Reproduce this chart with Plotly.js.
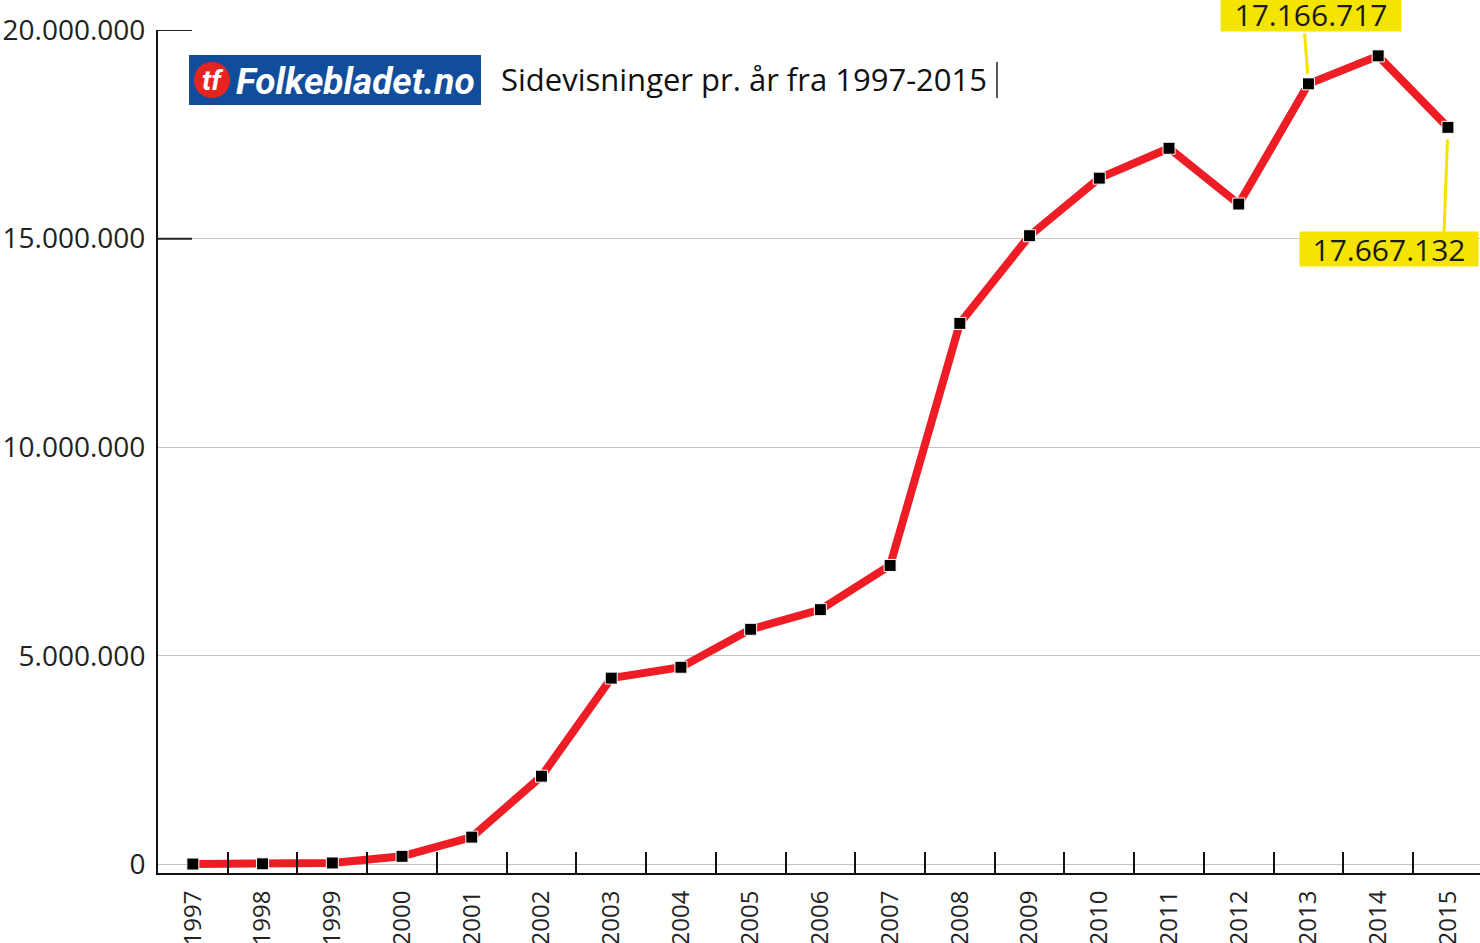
<!DOCTYPE html>
<html>
<head>
<meta charset="utf-8">
<script src="https://cdn.plot.ly/plotly-3.0.1.min.js"></script>
<style>
  html, body { margin: 0; padding: 0; background: #ffffff; }
  #chart { width: 1480px; height: 943px; }
</style>
</head>
<body>
<div id="chart"></div>
<script>
// ---- data ----
const years = ['1997','1998','1999','2000','2001','2002','2003','2004','2005','2006',
               '2007','2008','2009','2010','2011','2012','2013','2014','2015'];
const pageViews = [15000, 20000, 40000, 200000, 660000, 2120000, 4470000, 4730000, 5640000, 6110000,
                   7170000, 12970000, 15070000, 16450000, 17166717, 15830000, 18710000, 19380000, 17667132];
const yTicks = [0, 5000000, 10000000, 15000000, 20000000];
const calloutYears = ['2013', '2015'];
const calloutTexts = ['17.166.717', '17.667.132'];
const titleText = 'Sidevisninger pr. år fra 1997-2015';
const logoText = 'Folkebladet.no';
const logoMark = 'tf';

// ---- layout geometry helpers (pixel -> paper) ----
const W = 1480, H = 943;
const M = { l: 158, r: 0, t: 30, b: 70 };
const PW = W - M.l - M.r, PH = H - M.t - M.b;
const px = x => (x - M.l) / PW;
const py = y => (H - M.b - y) / PH;

const trace = {
  type: 'scatter',
  mode: 'lines+markers',
  x: years,
  y: pageViews,
  line: { color: '#ee1c25', width: 8 },
  marker: { symbol: 'square', size: 12, color: '#000000', line: { color: '#ffffff', width: 1 } },
  hoverinfo: 'skip',
  cliponaxis: false
};

const idx = calloutYears.map(y => years.indexOf(y));

const annotations = [
  // logo text
  { xref: 'paper', yref: 'paper', x: px(234), y: py(81), xanchor: 'left', yanchor: 'middle',
    text: '<b><i>' + logoText + '</i></b>', showarrow: false,
    font: { family: 'Roboto, sans-serif', size: 37, color: '#ffffff' } },
  { xref: 'paper', yref: 'paper', x: px(212), y: py(80), xanchor: 'center', yanchor: 'middle',
    text: '<b><i>' + logoMark + '</i></b>', showarrow: false,
    font: { family: 'Roboto, sans-serif', size: 28, color: '#ffffff' } },
  // callout 1 pointer + box
  { xref: 'x', yref: 'y', x: idx[0], y: pageViews[idx[0]], ax: -4, ay: -52, text: '', showarrow: true,
    arrowhead: 0, arrowwidth: 3, arrowcolor: '#f5e400', standoff: 10 },
  { xref: 'x', yref: 'y', x: idx[0], y: pageViews[idx[0]], xshift: 3, yshift: 70, text: calloutTexts[0], showarrow: false,
    bgcolor: '#f5e400', width: 180, height: 34, borderpad: 0,
    font: { family: 'Open Sans, sans-serif', size: 30, color: '#1a1a1a' } },
  // callout 2 pointer + box
  { xref: 'x', yref: 'y', x: idx[1], y: pageViews[idx[1]], ax: -4, ay: 108, text: '', showarrow: true,
    arrowhead: 0, arrowwidth: 3, arrowcolor: '#f5e400', standoff: 12 },
  { xref: 'x', yref: 'y', x: idx[1], y: pageViews[idx[1]], xshift: -59, yshift: -122, text: calloutTexts[1], showarrow: false,
    bgcolor: '#f5e400', width: 178, height: 34, borderpad: 0,
    font: { family: 'Open Sans, sans-serif', size: 30, color: '#1a1a1a' } }
];

const shapes = [
  // logo background
  { type: 'rect', xref: 'paper', yref: 'paper', x0: px(189), x1: px(481), y0: py(105), y1: py(55),
    fillcolor: '#124d9b', line: { width: 0 }, layer: 'above' },
  { type: 'circle', xref: 'paper', yref: 'paper', x0: px(194), x1: px(230), y0: py(98), y1: py(62),
    fillcolor: '#e52421', line: { width: 0 }, layer: 'above' },
  // text cursor after title
  { type: 'line', xref: 'paper', yref: 'paper', x0: px(997), x1: px(997), y0: py(98), y1: py(62),
    line: { color: '#222222', width: 1.5 } }
];
// short dark tick marks at the top two gridlines
yTicks.slice(-2).forEach(v => shapes.push({
  type: 'line', xref: 'paper', yref: 'y', x0: 0, x1: px(192), y0: v, y1: v,
  line: { color: '#222222', width: 2 }
}));

const layout = {
  width: W, height: H,
  margin: M,
  paper_bgcolor: '#ffffff',
  plot_bgcolor: '#ffffff',
  showlegend: false,
  separators: ',.',
  title: {
    text: titleText,
    xref: 'container', yref: 'container',
    x: 501 / W, y: 1 - 80 / H, xanchor: 'left', yanchor: 'middle',
    font: { family: 'Open Sans, sans-serif', size: 31, color: '#111111' }
  },
  xaxis: {
    type: 'category',
    range: [-0.5, 18.46],
    showline: true, linecolor: '#111111', linewidth: 2,
    showgrid: false, zeroline: false,
    ticks: 'inside', tickson: 'boundaries', ticklen: 21, tickwidth: 2, tickcolor: '#111111',
    tickangle: -90,
    ticklabelstandoff: 6,
    tickfont: { family: 'Open Sans, sans-serif', size: 24, color: '#222222' },
    fixedrange: true
  },
  yaxis: {
    range: [-200000, 20000000],
    tickvals: yTicks,
    tickformat: ',d',
    showline: true, linecolor: '#111111', linewidth: 2,
    showgrid: true, gridcolor: '#c4c4c4', gridwidth: 1,
    zeroline: false,
    ticks: '',
    ticklabelstandoff: 5,
    tickfont: { family: 'Open Sans, sans-serif', size: 28, color: '#222222' },
    fixedrange: true
  },
  annotations: annotations,
  shapes: shapes
};

Plotly.newPlot('chart', [trace], layout, { displayModeBar: false, staticPlot: true });
</script>
</body>
</html>
